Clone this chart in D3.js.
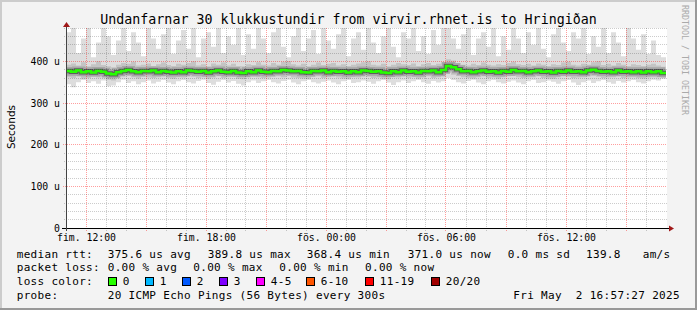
<!DOCTYPE html>
<html>
<head>
<meta charset="utf-8">
<script src="https://cdn.jsdelivr.net/npm/d3@7"></script>
<style>
  body { margin: 0; background: #f3f3f3; }
  svg { display: block; }
  text { font-family: "DejaVu Sans Mono", monospace; fill: #000; }
</style>
</head>
<body>
<script>

// one sample every 15 minutes, 30 hours
let start = new Date(2025, 4, 1, 11, 0, 0);
let stepMinutes = 15;

// median rtt (us)
let median = [
377,375,378,374,376,373,377,375,371,369,374,377,379,376,374,377,376,378,374,377,
375,373,376,374,378,377,375,377,373,376,378,375,374,377,373,372,376,374,378,375,
374,377,376,379,378,376,377,374,373,377,376,378,374,377,375,376,373,376,374,378,
377,375,376,373,372,376,374,378,375,376,373,377,376,378,374,379,389,386,381,376,
377,374,376,378,375,376,373,377,375,379,376,377,374,376,378,375,376,373,377,375,
378,375,376,374,378,380,377,375,376,374,378,375,376,374,376,373,376,374,376,372];

// slowest ping of each round
let maxPing = [
470,480,420,455,480,410,445,480,460,415,450,480,425,470,445,412,480,455,430,465,
480,418,450,475,430,480,410,455,470,435,480,420,460,440,480,415,465,430,480,455,
420,470,480,435,410,460,480,425,455,475,418,480,450,430,465,480,412,455,470,428,
480,445,420,460,480,435,410,470,455,480,425,460,418,475,440,480,480,455,430,465,
480,415,455,470,435,480,412,460,428,480,455,420,470,440,480,430,410,465,480,445,
425,470,455,480,418,460,435,480,420,470,445,412,480,455,428,465,418,450,415,410];

// upper part of the smoke
let highPing = [
392,395,390,398,388,393,400,391,388,386,392,396,394,399,390,392,395,389,393,397,
391,389,394,392,396,400,390,393,388,395,392,397,390,394,389,388,393,391,398,392,
390,396,392,399,401,393,390,394,388,392,397,391,394,396,390,393,389,392,395,398,
400,392,390,394,388,392,396,393,391,395,389,393,396,391,394,398,405,402,396,392,
390,394,391,397,392,390,393,391,396,399,393,391,394,390,395,392,389,393,391,397,
399,392,390,394,392,398,400,391,394,390,396,392,389,393,391,389,392,394,390,387];

// lower part of the smoke
let lowPing = [
362,360,364,358,360,363,361,362,356,354,361,364,365,362,359,363,361,360,362,364,
360,358,362,361,364,363,360,362,358,361,364,360,362,363,358,357,361,363,362,360,
361,363,364,362,365,361,360,359,358,363,364,360,362,364,361,359,358,362,361,364,
363,360,361,358,357,362,361,364,360,362,358,361,364,360,362,364,372,368,365,362,
360,359,362,364,360,361,358,362,364,365,362,360,361,362,364,360,359,358,362,364,
363,360,361,362,364,365,363,360,361,362,364,360,361,362,360,359,361,362,361,360];

// fastest ping of each round
let minPing = [
345,338,350,355,348,352,346,354,340,342,350,356,348,352,345,350,354,347,351,355,
349,345,352,355,350,347,353,356,348,344,351,355,349,353,346,342,350,354,348,352,
355,350,347,353,356,349,345,352,355,350,347,351,354,349,345,352,355,348,350,354,
351,346,352,355,349,343,350,354,348,352,355,350,346,353,349,352,360,355,350,347,
353,356,349,345,352,355,350,347,351,354,349,345,352,355,348,350,354,351,346,352,
355,349,343,350,354,348,352,355,350,346,353,349,352,355,350,347,352,356,354,358];

let yTicks = [0, 100, 200, 300, 400];
let yTickLabels = ["0", "100 u", "200 u", "300 u", "400 u"];

let title = "Undanfarnar 30 klukkustundir from virvir.rhnet.is to Hringiðan";
let rttLabels = ["375.6 us avg", "389.8 us max", "368.4 us min", "371.0 us now", "0.0 ms sd", "139.8", "am/s"];
let lossLabels = ["0.00 % avg", "0.00 % max", "0.00 % min", "0.00 % now"];
let lossSteps = ["0", "1", "2", "3", "4-5", "6-10", "11-19", "20/20"];
let lossColors = ["#26ff00", "#00b8ff", "#0059ff", "#7e00ff", "#ff00ff", "#ff5500", "#ff0000", "#a10000"];
let probeText = "20 ICMP Echo Pings (56 Bytes) every 300s";
let stampText = "Fri May  2 16:57:27 2025";

let dayNames = ["sun.", "mán.", "þri.", "mið.", "fim.", "fös.", "lau."];

let width = 697;
let height = 310;
let plot = ({left: 66, right: 667, top: 28, bottom: 228});


function init() {

  let end = d3.timeHour.offset(start, 30);

  // table of samples, last one repeated so the steps reach the right edge
  let table = median.map((m, i) => ({
    t: d3.timeMinute.offset(start, i * stepMinutes),
    med: m, max: maxPing[i], hi: highPing[i], lo: lowPing[i], min: minPing[i]
  }));
  table.push(Object.assign({}, table[table.length - 1], {t: end}));

  let x = d3.scaleTime()
    .domain([start, end])
    .range([plot.left, plot.right - 1]);

  let y = d3.scaleLinear()
    .domain([0, 480])
    .range([plot.bottom, plot.top]);

  let px = v => Math.floor(v) + 0.5;

  let svg = d3.select("body")
    .append("svg")
    .attr("width", width)
    .attr("height", height);

  // background and 3d border
  svg.append("rect").attr("width", width).attr("height", height).attr("fill", "#f3f3f3");
  svg.append("path").attr("d", `M1,${height} V1 H${width}`).attr("stroke", "#cccccc").attr("stroke-width", 2).attr("fill", "none");
  svg.append("path").attr("d", `M0,${height - 1} H${width - 1} V0`).attr("stroke", "#999999").attr("stroke-width", 2).attr("fill", "none");

  // canvas
  svg.append("rect")
    .attr("x", plot.left).attr("y", plot.top)
    .attr("width", plot.right - plot.left).attr("height", plot.bottom - plot.top)
    .attr("fill", "#ffffff");

  // smoke
  let band = (top, bot) => d3.area()
    .curve(d3.curveStepAfter)
    .x(d => x(d.t))
    .y0(d => y(bot(d)))
    .y1(d => y(top(d)));

  svg.append("path").datum(table)
    .attr("fill", "#dddddd")
    .attr("d", band(d => d.max, d => d.min));

  svg.append("path").datum(table)
    .attr("fill", "#c4c4c4")
    .attr("d", band(d => d.hi, d => d.lo));

  let medLine = d3.line()
    .curve(d3.curveStepAfter)
    .x(d => x(d.t))
    .y(d => y(d.med));

  svg.append("path").datum(table)
    .attr("fill", "none").attr("stroke", "#888").attr("stroke-opacity", 0.5).attr("stroke-width", 8)
    .attr("d", medLine);

  svg.append("path").datum(table)
    .attr("fill", "none").attr("stroke", "#222").attr("stroke-opacity", 0.55).attr("stroke-width", 4.5)
    .attr("d", medLine);

  // grid on top of the smoke
  let grid = svg.append("g").attr("fill", "none").attr("stroke-dasharray", "1,1");

  let hours = d3.timeHour.range(d3.timeHour.offset(start, 1), end);
  let minorY = d3.range(20, 481, 20).filter(v => v % 100 != 0);

  grid.selectAll(".vminor")
    .data(hours.filter(h => h.getHours() % 3 != 0))
    .join("line")
      .attr("x1", d => px(x(d))).attr("x2", d => px(x(d)))
      .attr("y1", plot.top).attr("y2", plot.bottom + 3)
      .attr("stroke", "rgba(0,0,0,0.2)");

  grid.selectAll(".hminor")
    .data(minorY)
    .join("line")
      .attr("x1", plot.left - 2).attr("x2", plot.right)
      .attr("y1", d => px(y(d))).attr("y2", d => px(y(d)))
      .attr("stroke", "rgba(0,0,0,0.2)");

  grid.selectAll(".vmajor")
    .data(hours.filter(h => h.getHours() % 3 == 0))
    .join("line")
      .attr("x1", d => px(x(d))).attr("x2", d => px(x(d)))
      .attr("y1", plot.top).attr("y2", plot.bottom + 4)
      .attr("stroke", "rgba(255,0,0,0.38)");

  grid.selectAll(".hmajor")
    .data(yTicks.filter(v => v > 0))
    .join("line")
      .attr("x1", plot.left - 3).attr("x2", plot.right)
      .attr("y1", d => px(y(d))).attr("y2", d => px(y(d)))
      .attr("stroke", "rgba(255,0,0,0.38)");

  // median line
  svg.append("path").datum(table)
    .attr("fill", "none").attr("stroke", lossColors[0]).attr("stroke-width", 2.5)
    .attr("d", medLine);

  // axes with arrows
  svg.append("line")
    .attr("x1", plot.left - 4).attr("x2", plot.right + 3)
    .attr("y1", px(plot.bottom)).attr("y2", px(plot.bottom))
    .attr("stroke", "#000");
  svg.append("line")
    .attr("x1", px(plot.left)).attr("x2", px(plot.left))
    .attr("y1", plot.bottom + 3).attr("y2", plot.top - 3)
    .attr("stroke", "#444");
  svg.append("path")
    .attr("d", `M${plot.right + 2},${plot.bottom - 2.5} L${plot.right + 7},${plot.bottom + 0.5} L${plot.right + 2},${plot.bottom + 3.5} Z`)
    .attr("fill", "#a01818");
  svg.append("path")
    .attr("d", `M${plot.left - 3},${plot.top - 1} L${plot.left + 0.5},${plot.top - 6} L${plot.left + 4},${plot.top - 1} Z`)
    .attr("fill", "#a01818");

  // y labels
  svg.append("g")
    .selectAll("text")
    .data(yTicks)
    .join("text")
      .attr("x", 60)
      .attr("y", d => y(d) + 3.5)
      .attr("text-anchor", "end")
      .style("font-size", "9.8px")
      .text((d, i) => yTickLabels[i]);

  // x labels every 6 hours
  svg.append("g")
    .selectAll("text")
    .data(hours.filter(h => h.getHours() % 6 == 0))
    .join("text")
      .attr("x", d => x(d) + 0.5)
      .attr("y", 240.5)
      .attr("text-anchor", "middle")
      .style("font-size", "9.8px")
      .text(d => dayNames[d.getDay()] + " " + d3.timeFormat("%H:%M")(d));

  // title
  svg.append("text")
    .attr("x", 348.5).attr("y", 24)
    .attr("text-anchor", "middle")
    .style("font-size", "13.3px")
    .text(title);

  // vertical labels
  svg.append("text")
    .attr("transform", "translate(14.5,127) rotate(-90)")
    .attr("text-anchor", "middle")
    .style("font-family", "'DejaVu Sans', sans-serif")
    .style("font-size", "10.5px")
    .text("Seconds");

  svg.append("text")
    .attr("transform", "translate(682,5) rotate(90)")
    .style("font-size", "8.3px")
    .style("fill", "#aaaaaa")
    .text("RRDTOOL / TOBI OETIKER");

  // legend
  let legend = svg.append("g")
    .style("font-size", "11px")
    .style("letter-spacing", "0.32px");

  let rowY = [257.5, 271.3, 285.2, 299];
  let col = 107.7;

  legend.append("text").attr("x", 16.7).attr("y", rowY[0]).text("median rtt:");
  let rttX = [107.7, 207.7, 306.7, 407.7, 507.7, 586, 642.7];
  legend.selectAll(".rtt")
    .data(rttLabels)
    .join("text")
      .attr("x", (d, i) => rttX[i]).attr("y", rowY[0])
      .text(d => d);

  legend.append("text").attr("x", 16.7).attr("y", rowY[1]).text("packet loss:");
  let lossX = [107.7, 193.3, 279.3, 365];
  legend.selectAll(".loss")
    .data(lossLabels)
    .join("text")
      .attr("x", (d, i) => lossX[i]).attr("y", rowY[1])
      .text(d => d);

  legend.append("text").attr("x", 16.7).attr("y", rowY[2]).text("loss color:");
  let boxX = [108.7, 145.7, 182.7, 219.7, 256.7, 306.7, 365.7, 431];
  let boxes = legend.selectAll(".box")
    .data(lossSteps)
    .join("g")
      .attr("transform", (d, i) => `translate(${Math.floor(boxX[i]) + 0.5},277.5)`);
  boxes.append("rect")
    .attr("width", 8).attr("height", 8)
    .attr("fill", (d, i) => lossColors[i])
    .attr("stroke", "#000");
  boxes.append("text")
    .attr("x", 14.3).attr("y", rowY[2] - 277.5)
    .text(d => d);

  legend.append("text").attr("x", 16.7).attr("y", rowY[3]).text("probe:");
  legend.append("text").attr("x", col).attr("y", rowY[3]).text(probeText);
  legend.append("text").attr("x", 513.3).attr("y", rowY[3]).style("white-space", "pre").text(stampText);

  return svg.node();
}

init();

</script>
</body>
</html>
